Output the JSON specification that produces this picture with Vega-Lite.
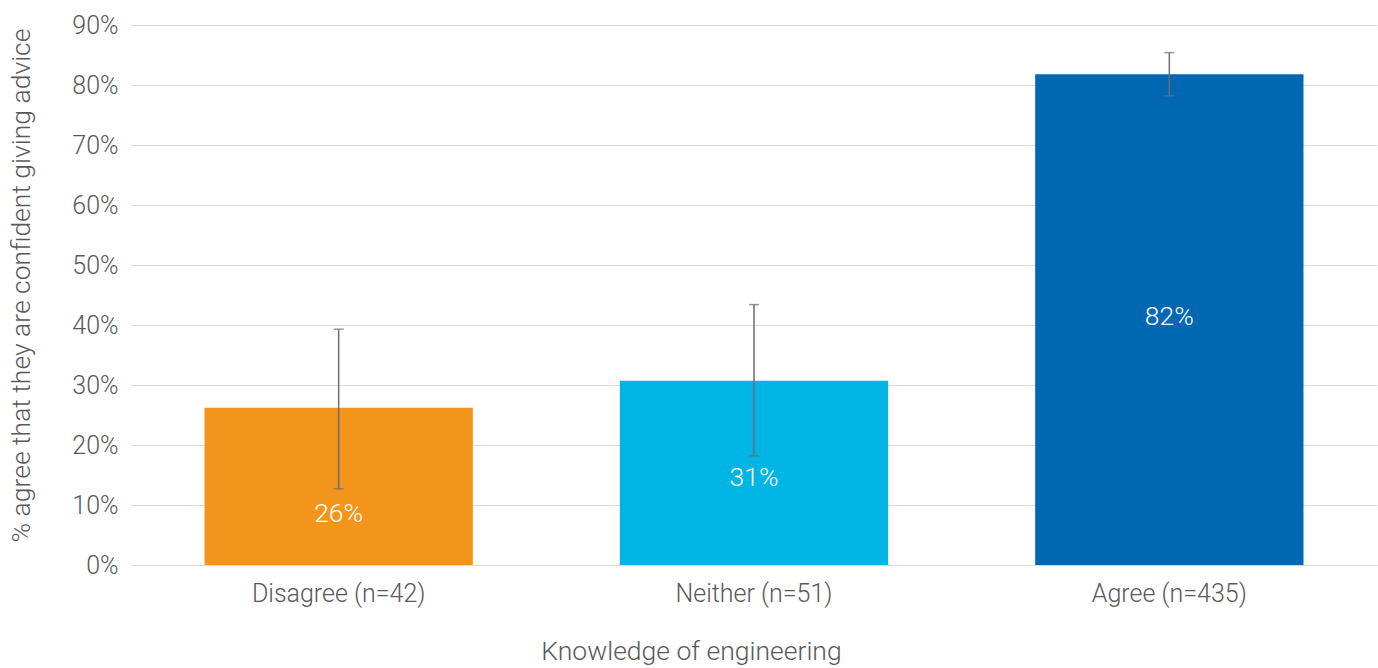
{
  "$schema": "https://vega.github.io/schema/vega-lite/v6.json",
  "width": 1246,
  "height": 540,
  "autosize": {"type": "none"},
  "padding": {"left": 131, "top": 25, "right": 1, "bottom": 103},
  "background": "white",
  "config": {
    "view": {"stroke": null},
    "font": "Roboto",
    "axis": {"labelFont": "Roboto", "titleFont": "Roboto", "labelFontWeight": 300, "titleFontWeight": 300, "labelColor": "#595959", "titleColor": "#595959"}
  },
  "data": {
    "values": [
      {"category": "Disagree (n=42)", "value": 0.262, "lo": 0.127, "hi": 0.393, "label": "26%"},
      {"category": "Neither (n=51)", "value": 0.307, "lo": 0.182, "hi": 0.434, "label": "31%"},
      {"category": "Agree (n=435)", "value": 0.818, "lo": 0.782, "hi": 0.854, "label": "82%"}
    ]
  },
  "encoding": {
    "x": {
      "field": "category",
      "type": "nominal",
      "sort": null,
      "scale": {"paddingInner": 0.354, "paddingOuter": 0.177},
      "axis": {
        "title": "Knowledge of engineering",
        "labelAngle": 0,
        "labelFontSize": 25,
        "titleFontSize": 26.5,
        "labelPadding": 16,
        "titlePadding": 32,
        "titleX": 560,
        "titleAnchor": null,
        "titleAlign": "center",
        "domain": false,
        "ticks": false
      }
    }
  },
  "layer": [
    {
      "mark": {"type": "bar"},
      "encoding": {
        "y": {
          "field": "value",
          "type": "quantitative",
          "scale": {"domain": [0, 0.9]},
          "axis": {
            "title": "% agree that they are confident giving advice",
            "format": ".0%",
            "values": [0, 0.1, 0.2, 0.3, 0.4, 0.5, 0.6, 0.7, 0.8, 0.9],
            "labelFontSize": 25,
            "titleFontSize": 26.5,
            "labelPadding": 13,
            "titlePadding": 36,
            "titleY": 260,
            "titleAlign": "center",
            "domain": false,
            "ticks": false,
            "gridColor": "#d9d9d9",
            "gridWidth": 1.2
          }
        },
        "color": {
          "field": "category",
          "type": "nominal",
          "scale": {"domain": ["Disagree (n=42)", "Neither (n=51)", "Agree (n=435)"], "range": ["#F3941B", "#00B4E4", "#0068B3"]},
          "legend": null
        }
      }
    },
    {
      "mark": {"type": "rule", "color": "#6e6e6e", "strokeWidth": 1.5},
      "encoding": {
        "y": {"field": "lo", "type": "quantitative"},
        "y2": {"field": "hi"}
      }
    },
    {
      "mark": {"type": "tick", "color": "#6e6e6e", "thickness": 1.5, "size": 10},
      "encoding": {"y": {"field": "lo", "type": "quantitative"}}
    },
    {
      "mark": {"type": "tick", "color": "#6e6e6e", "thickness": 1.5, "size": 10},
      "encoding": {"y": {"field": "hi", "type": "quantitative"}}
    },
    {
      "transform": [{"filter": "datum.category === 'Disagree (n=42)'"}, {"calculate": "datum.value / 2", "as": "mid"}],
      "mark": {"type": "text", "color": "white", "fontSize": 26.5, "fontWeight": 300, "font": "Roboto", "baseline": "middle", "yOffset": 28},
      "encoding": {
        "y": {"field": "mid", "type": "quantitative"},
        "text": {"field": "label"}
      }
    },
    {
      "transform": [{"filter": "datum.category === 'Neither (n=51)'"}, {"calculate": "datum.value / 2", "as": "mid"}],
      "mark": {"type": "text", "color": "white", "fontSize": 26.5, "fontWeight": 300, "font": "Roboto", "baseline": "middle", "yOffset": 5},
      "encoding": {
        "y": {"field": "mid", "type": "quantitative"},
        "text": {"field": "label"}
      }
    },
    {
      "transform": [{"filter": "datum.category === 'Agree (n=435)'"}, {"calculate": "datum.value / 2", "as": "mid"}],
      "mark": {"type": "text", "color": "white", "fontSize": 26.5, "fontWeight": 300, "font": "Roboto", "baseline": "middle", "yOffset": -3},
      "encoding": {
        "y": {"field": "mid", "type": "quantitative"},
        "text": {"field": "label"}
      }
    }
  ]
}
